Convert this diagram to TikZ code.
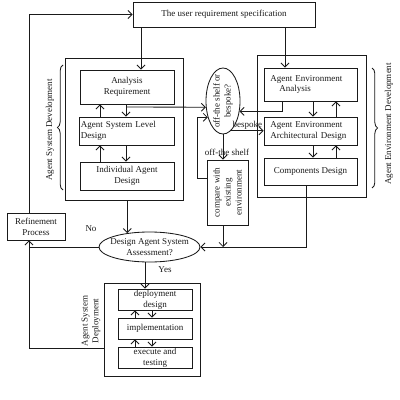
\documentclass[tikz,border=0pt]{standalone}
\usepackage{fontspec}
\setmainfont{Liberation Serif}
\usepackage{tikz}
\usetikzlibrary{shapes.geometric, arrows.meta, decorations.pathreplacing}
\definecolor{inkdark}{HTML}{1A1A1A}
\tikzset{
  lbl/.style={font=\fontsize{6.4}{7.8}\selectfont, text=inkdark, align=center, inner sep=0.5pt},
  box/.style={draw=inkdark, line width=0.6pt, lbl, inner sep=1pt},
  outerbox/.style={draw=inkdark, line width=0.7pt},
  decision/.style={draw=inkdark, ellipse, line width=0.6pt, inner sep=0pt},
  flow/.style={-{Straight Barb[length=1mm, width=2mm]}, line width=0.6pt, color=inkdark},
  link/.style={line width=0.6pt, color=inkdark},
  brc/.style={decorate, decoration={brace, amplitude=4pt}, line width=0.6pt, color=inkdark},
}

\begin{document}
\begin{tikzpicture}[x=0.025cm, y=-0.025cm]
  \useasboundingbox (0,0) rectangle (400,400);
  \node[box, minimum width=4.55cm, minimum height=0.625cm] (spec) at (224,14.5) {The user requirement specification};
  % agent system development
  \node[outerbox, minimum width=2.925cm, minimum height=3.525cm] (asdev) at (124.5,129.5) {};
  \node[box, minimum width=2.35cm, minimum height=0.85cm] (anareq) at (127,87) {Analysis\\Requirement};
  \node[box, minimum width=2.35cm, minimum height=0.7cm, text width=2.3cm, align=left] (asld) at (127,131) {Agent System Level\\Design};
  \node[box, minimum width=2.35cm, minimum height=0.7cm] (iad) at (127,176) {Individual Agent\\Design};
  \draw[brc] (63,190) -- (63,65);
  \node[lbl, rotate=90] (asdevlbl) at (50,130) {Agent System Development};
  % agent environment development
  \node[outerbox, minimum width=2.7cm, minimum height=3.525cm] (aedev) at (312,126.5) {};
  \node[box, minimum width=2.325cm, minimum height=0.825cm, text width=2.0cm, align=left] (aea) at (310.5,84.5) {Agent Environment\\\quad Analysis};
  \node[box, minimum width=2.325cm, minimum height=0.7cm, text width=2.0cm, align=left] (aead) at (310.5,131) {Agent Environment\\Architectural Design};
  \node[box, minimum width=2.325cm, minimum height=0.675cm] (cd) at (310.5,171.5) {Components Design};
  \draw[brc] (372,68) -- (372,188);
  \node[lbl, rotate=90] (aedevlbl) at (389,124) {Agent Environment Development};
  % decisions
  \node[decision, minimum width=0.85cm, minimum height=1.65cm] (shelf) at (223,101) {};
  \node[lbl, rotate=90] (shelftxt) at (shelf) {off-the shelf or\\bespoke?};
  \node[box, minimum width=1.025cm, minimum height=1.625cm] (compare) at (227.5,192.5) {};
  \node[lbl, rotate=90] (comparetxt) at (compare) {compare with\\existing\\environment};
  \node[box, minimum width=1.45cm, minimum height=0.675cm] (refine) at (36,226.5) {Refinement\\Process};
  \node[decision, minimum width=2.525cm, minimum height=0.75cm] (assess) at (149.5,247) {};
  \node[lbl] (assesstxt) at (assess) {Design Agent System\\Assessment?};
  \node[lbl] (nolbl) at (91,229) {No};
  \node[lbl] (yeslbl) at (165,270) {Yes};
  % deployment
  \node[outerbox, minimum width=2.375cm, minimum height=2.3cm] (deploy) at (152.5,330) {};
  \node[box, minimum width=1.85cm, minimum height=0.525cm, inner sep=0.5pt] (dd) at (155,299.5) {deployment\\design};
  \node[box, minimum width=1.85cm, minimum height=0.525cm, inner sep=0.5pt] (impl) at (155,328.5) {implementation};
  \node[box, minimum width=1.85cm, minimum height=0.525cm, inner sep=0.5pt] (exec) at (155,357.5) {execute and\\testing};
  \node[lbl, rotate=90] (deplbl) at (91,321) {Agent System\\Deployment};

  \coordinate (tap) at (126,107);
  \draw[flow] (141,0 |- spec.south) -- (141,0 |- anareq.north);
  \draw[flow] (285,0 |- spec.south) -- (285,0 |- aea.north);
  \draw[flow] (29,0 |- refine.north) |- (spec.west);
  \draw[flow] (100,0 |- asld.north) -- (100,0 |- anareq.south);
  \draw[flow] (126,0 |- anareq.south) -- (126,0 |- asld.north);
  \draw[flow] (100,0 |- iad.north) -- (100,0 |- asld.south);
  \draw[flow] (126,0 |- asld.south) -- (126,0 |- iad.north);
  \draw[flow] (tap) -- (shelf.200);
  \draw[flow] (282,0 |- aea.south) |- (shelf.-32);
  \draw[flow] (313,0 |- aea.south) -- (313,0 |- aead.north);
  \draw[flow] (336,0 |- aead.north) -- (336,0 |- aea.south);
  \draw[flow] (313,0 |- aead.south) -- (313,0 |- cd.north);
  \draw[flow] (336,0 |- cd.north) -- (336,0 |- aead.south);
  \draw[flow] (shelf.-75) -- (shelf.-75 -| aead.west) node[lbl, midway, above] (bsplbl) {bespoke};
  \draw[flow] (shelf.south) -- (shelf.south |- compare.north) node[lbl, pos=0.7, xshift=1mm] (otslbl) {off-the shelf};
  \draw[flow] (compare.west |- 0,178) -| (197,0 |- shelf.227) -- (shelf.227);
  \draw[flow] (compare.south -| shelf.south) -- (shelf.south |- assess.east);
  \draw[flow] (306,0 |- cd.south) |- (assess.east);
  \draw[flow] (asdev.south -| assess.148) -- (assess.148);
  \draw[flow] (assess.west) -| (29,0 |- refine.south);
  \draw[flow] (145,0 |- assess.south) -- (145,0 |- dd.north);
  \draw[link] (deploy.west |- 0,348) -| (29,0 |- refine.south);
  \draw[flow] (135,0 |- impl.north) -- (135,0 |- dd.south);
  \draw[flow] (152,0 |- dd.south) -- (152,0 |- impl.north);
  \draw[flow] (135,0 |- exec.north) -- (135,0 |- impl.south);
  \draw[flow] (152,0 |- impl.south) -- (152,0 |- exec.north);
\end{tikzpicture}
\end{document}
